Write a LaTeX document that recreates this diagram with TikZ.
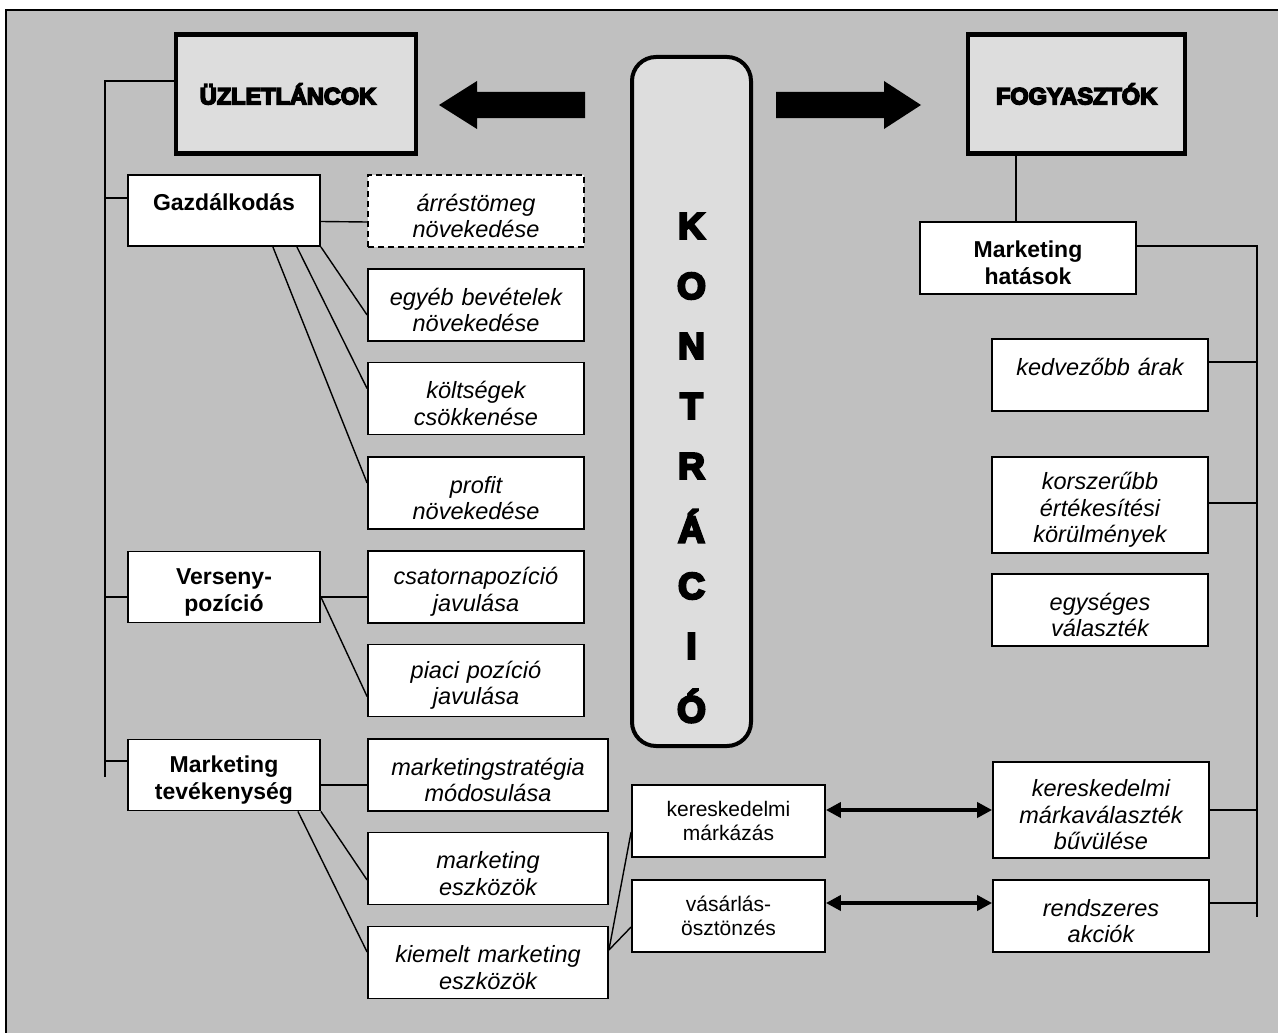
\documentclass[tikz,border=0pt]{standalone}
\usepackage{fontspec}
\setmainfont{Liberation Sans}
\newcommand{\heavytext}[2]{\special{pdf:literal 2 Tr #1 w}#2\special{pdf:literal 0 Tr}}
\usepackage{tikz}
\usetikzlibrary{positioning}
\usetikzlibrary{calc,arrows.meta}

\definecolor{bggray}{RGB}{192,192,192}
\definecolor{boxgray}{RGB}{221,221,221}

\begin{document}
\begin{tikzpicture}[x=1pt,y=-1pt,
	headbox/.style={draw, line width=4.5pt, fill=boxgray, inner sep=0pt,
		minimum width=#1, minimum height=119pt,
		font=\bfseries\fontsize{23.5}{28}\selectfont},
	letterstyle/.style={font=\bfseries\fontsize{37}{37}\selectfont, inner sep=0pt},
	plainbox/.style={draw, line width=1.8pt, fill=white, inner sep=0pt, align=center,
		text width=#1-12pt, minimum width=#1, minimum height=72pt},
	lowered/.style={execute at begin node={\rule{0pt}{27pt}}},
	catbox/.style={plainbox=192pt, lowered, minimum height=71pt,
		font=\bfseries\fontsize{23}{27}\selectfont},
	effbox/.style={plainbox=#1, lowered,
		font=\itshape\fontsize{23.5}{26.5}\selectfont},
	effbox/.default=216pt,
	toolbox/.style={plainbox=193pt, font=\fontsize{21}{24.5}\selectfont},
	linkline/.style={line width=1.4pt},
	twoway/.style={{Triangle[length=15pt,width=15pt]}-{Triangle[length=15pt,width=15pt]}, line width=4pt}
	]
	
	% ------------------------------------------------
	% Background and margins
	\useasboundingbox (0,0) rectangle (1278,1033);
	\fill[bggray] (6,10) rectangle (1278,1033);
	\draw[line width=2pt] (6,1033) -- (6,10) -- (1278,10);
	
	% ------------------------------------------------
	% Top row
	\node[headbox=240pt] (Uzlet) at (296,94) {\hspace*{-16pt}\heavytext{1.6}{ÜZLETLÁNCOK}};
	\node[headbox=217pt] (Fogy) at (1076.5,94) {\heavytext{1.6}{FOGYASZTÓK}};
	
	\node[draw, line width=4pt, rounded corners=24pt, fill=boxgray,
		minimum width=119pt, minimum height=689pt] (Kontr) at (691.5,401.5) {};
	\foreach \letter [count=\i from 0] in {K,O,N,T,R,Á,C,I,Ó}
		\node[letterstyle] (Let\i) at ($(Kontr.north)+(0,171+60*\i)$) {\heavytext{2.4}{\letter}};
	
	% ----------------
	% Block arrows
	\coordinate (ArrLTip) at (439,105);
	\coordinate (ArrRTip) at (921,105);
	\fill (ArrLTip) -- ++(38,-24) -- ++(0,11) -- ++(108,0) -- ++(0,26)
		-- ++(-108,0) -- ++(0,11) -- cycle;
	\fill (ArrRTip) -- ++(-37,-24) -- ++(0,11) -- ++(-108,0) -- ++(0,26)
		-- ++(108,0) -- ++(0,11) -- cycle;
	
	% ------------------------------------------------
	% Left side: retail chains
	\node[catbox] (Gazd) at (224,210.5) {Gazdálkodás\\\mbox{}};
	\node[catbox] (Verseny) at (224,587) {Verseny-\\pozíció};
	\node[catbox] (Marktev) at (224,775) {Marketing\\tevékenység};
	
	\node[effbox, dash pattern=on 6pt off 4pt] (Arres) at (476,211) {árréstömeg\\növekedése};
	\node[effbox] (Egyeb) at (476,305) {egyéb bevételek\\növekedése};
	\node[effbox] (Koltseg) at (476,398.5) {költségek\\csökkenése};
	\node[effbox] (Profit) at (476,493) {profit\\növekedése};
	\node[effbox] (Csatorna) at (476,587) {csatornapozíció\\javulása};
	\node[effbox] (Piaci) at (476,680.5) {piaci pozíció\\javulása};
	\node[effbox=240pt] (Mstrat) at (488,775) {marketingstratégia\\módosulása};
	\node[effbox=240pt] (Meszk) at (488,868.5) {marketing\\eszközök};
	\node[effbox=240pt] (Kiemelt) at (488,962.5) {kiemelt marketing\\eszközök};
	
	\node[toolbox] (Markazas) at (728.5,821) {kereskedelmi\\márkázás};
	\node[toolbox] (Vasarlas) at (728.5,916) {vásárlás-\\ösztönzés};
	
	% ------------------------------------------------
	% Right side: consumers
	\node[catbox, minimum width=216pt, minimum height=72pt] (Hatasok) at (1028,258) {Marketing\\hatások};
	\node[effbox] (Kedv) at (1100,375) {kedvezőbb árak\\\mbox{}};
	\node[effbox, minimum height=96pt] (Korsz) at (1100,505) {korszerűbb\\értékesítési\\körülmények};
	\node[effbox] (Egys) at (1100,610) {egységes\\választék};
	\node[effbox, minimum height=96pt] (Markaval) at (1101,810) {kereskedelmi\\márkaválaszték\\bűvülése};
	\node[effbox] (Rendsz) at (1101,916) {rendszeres\\akciók};
	
	% ------------------------------------------------
	% Bus lines
	\coordinate (BusLTop) at (105,81);
	\coordinate (BusLEnd) at (105,777);
	\coordinate (BusRTop) at (1257,246);
	\coordinate (BusREnd) at (1257,917);
	
	\path ([yshift=12.5pt]Gazd.west) coordinate (GazdIn);
	\path ([yshift=-10pt]Verseny.west) coordinate (VersenyIn);
	\path ([yshift=14pt]Marktev.west) coordinate (MarktevIn);
	\path ([xshift=-12pt]Hatasok.north) coordinate (HatasIn);
	\path ([yshift=13pt]Kedv.east) coordinate (KedvOut);
	\path ([yshift=2pt]Korsz.east) coordinate (KorszOut);
	\path ([yshift=13pt]Rendsz.east) coordinate (RendszOut);
	
	\draw[linkline] (Uzlet.west |- BusLTop) -- (BusLTop) -- (BusLEnd);
	\draw[linkline] (GazdIn) -- (GazdIn -| BusLTop);
	\draw[linkline] (VersenyIn) -- (VersenyIn -| BusLTop);
	\draw[linkline] (MarktevIn) -- (MarktevIn -| BusLTop);
	
	\draw[linkline] (HatasIn) -- (HatasIn |- Fogy.south);
	\draw[linkline] (Hatasok.east |- BusRTop) -- (BusRTop) -- (BusREnd);
	\draw[linkline] (KedvOut) -- (KedvOut -| BusRTop);
	\draw[linkline] (KorszOut) -- (KorszOut -| BusRTop);
	\draw[linkline] (Markaval.east) -- (Markaval.east -| BusRTop);
	\draw[linkline] (RendszOut) -- (RendszOut -| BusRTop);
	
	% ----------------
	% Branches
	\draw[linkline] ([yshift=-11pt]Gazd.east) -- ([yshift=-11pt]Arres.west);
	\draw[linkline] (Gazd.south east) -- ([yshift=-10pt]Egyeb.west);
	\draw[linkline] ([xshift=-24pt]Gazd.south east) -- ([yshift=10pt]Koltseg.west);
	\draw[linkline] ([xshift=-48pt]Gazd.south east) -- ([yshift=10pt]Profit.west);
	
	\draw[linkline] ([yshift=-10pt]Verseny.east) -- ([yshift=-10pt]Csatorna.west);
	\draw[linkline] ([yshift=-10pt]Verseny.east) -- ([yshift=-16pt]Piaci.west);
	
	\draw[linkline] ([yshift=-10pt]Marktev.east) -- ([yshift=-10pt]Mstrat.west);
	\draw[linkline] (Marktev.south east) -- ([yshift=-11.5pt]Meszk.west);
	\draw[linkline] ([xshift=-23pt]Marktev.south east) -- ([yshift=10.5pt]Kiemelt.west);
	
	\draw[linkline] ([yshift=12.5pt]Kiemelt.east) -- ([yshift=-11pt]Markazas.west);
	\draw[linkline] ([yshift=12.5pt]Kiemelt.east) -- ([yshift=-11pt]Vasarlas.west);
	
	% ----------------
	% Two-way links
	\draw[twoway] ([yshift=11pt]Markazas.east) -- (Markaval.west);
	\draw[twoway] ([yshift=13pt]Vasarlas.east) -- ([yshift=13pt]Rendsz.west);
	
\end{tikzpicture}
\end{document}
